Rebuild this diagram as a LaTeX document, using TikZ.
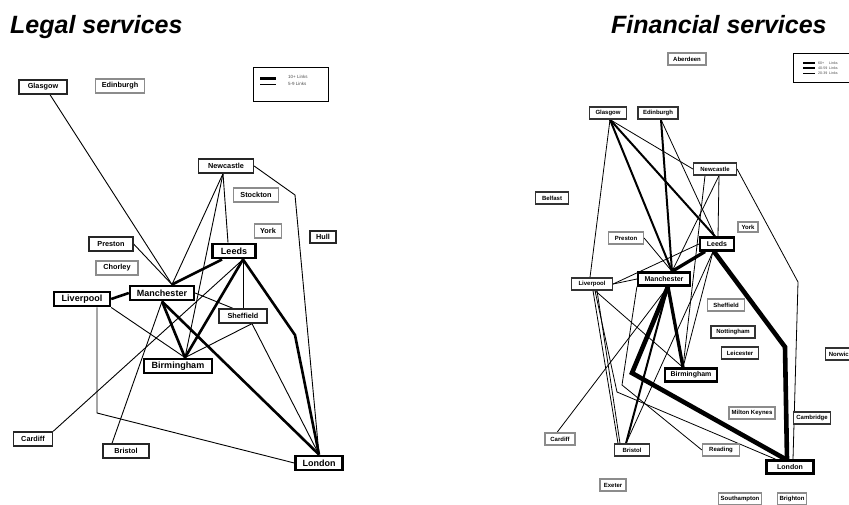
\documentclass[tikz,border=0pt]{standalone}
\usepackage{fontspec}
\setmainfont{Liberation Sans}
\usetikzlibrary{backgrounds}

\begin{document}
\begin{tikzpicture}[x=1pt,y=1pt,yscale=-1,xscale=1,
    paneltitle/.style={font=\bfseries\itshape\fontsize{25}{28}\selectfont, inner sep=0pt},
    bigtown/.style={draw, fill=white, line width=2.4pt, font=\bfseries\fontsize{9}{10}\selectfont, inner sep=0pt, minimum height=14.5pt},
    town/.style={draw=black!85, fill=white, line width=1.3pt, font=\bfseries\fontsize{7.3}{8}\selectfont, inner sep=0pt, minimum height=14pt},
    minortown/.style={town, draw=black!45},
    fbigtown/.style={draw, fill=white, line width=2.2pt, font=\bfseries\fontsize{7}{8}\selectfont, inner sep=0pt, minimum height=13pt},
    ftown/.style={draw=black!80, fill=white, line width=1.2pt, font=\bfseries\fontsize{6}{7}\selectfont, inner sep=0pt, minimum height=12pt},
    fminortown/.style={ftown, draw=black!45},
    lnk/.style={line width=0.9pt},
    lnkfat/.style={line width=2.6pt},
    flnk/.style={line width=0.8pt},
    flnkmid/.style={line width=2pt},
    flnkfat/.style={line width=3.3pt},
    flnkhuge/.style={line width=4.6pt},
    keybox/.style={draw, line width=1.3pt, fill=white, inner sep=0pt},
    keytext/.style={anchor=west, inner sep=0pt, text=black!70, font=\fontsize{4.5}{5}\selectfont}
]
    \useasboundingbox (0,0) rectangle (849,504);
    \clip (0,0) rectangle (849,504);

    % Legal services
    \node [paneltitle, anchor=base west] (ttlegal) at (10,33) {Legal services};
    \node [town, minimum width=48pt] (lglas) at (43,87) {Glasgow};
    \node [minortown, minimum width=49pt] (ledin) at (120,86) {Edinburgh};
    \node [town, minimum width=55pt] (lnewc) at (226,166) {Newcastle};
    \node [minortown, minimum width=45pt] (lstock) at (256,195) {Stockton};
    \node [minortown, minimum width=27pt] (lyork) at (268,231) {York};
    \node [town, minimum width=26pt, minimum height=12pt] (lhull) at (323,237) {Hull};
    \node [town, minimum width=44pt] (lprest) at (111,244) {Preston};
    \node [bigtown, minimum width=43pt] (lleeds) at (234,251) {Leeds};
    \node [minortown, minimum width=42pt] (lchor) at (117,268) {Chorley};
    \node [bigtown, minimum width=64pt] (lman) at (162,293) {Manchester};
    \node [bigtown, minimum width=56pt] (lliv) at (82,299) {Liverpool};
    \node [town, minimum width=48pt] (lsheff) at (243,316) {Sheffield};
    \node [bigtown, minimum width=68pt] (lbirm) at (178,366) {Birmingham};
    \node [town, minimum width=39pt] (lcard) at (33,439) {Cardiff};
    \node [town, minimum width=46pt] (lbris) at (126,451) {Bristol};
    \node [bigtown, minimum width=47pt] (llond) at (319,463) {London};
    \coordinate (lkink1) at (295,195);
    \coordinate (lkink2) at (295,335);
    \coordinate (lkink3) at (97,413);

    % key
    \node [keybox, minimum width=75pt, minimum height=34pt] (lkey) at (291,84.5) {};
    \draw [line width=3pt] (260,78) -- (276,78);
    \draw [line width=1pt] (260,84) -- (276,84);
    \node [keytext] (lkeya) at (288,77) {10+ Links};
    \node [keytext] (lkeyb) at (288,84) {5-9 Links};

    \begin{pgfonlayer}{background}
    \draw [lnk] ([xshift=7pt]lglas.south) -- ([xshift=10pt]lman.north);
    \draw [lnk] (lprest.east) -- ([xshift=10pt]lman.north);
    % Newcastle
    \draw [lnk] ([xshift=-3pt]lnewc.south) -- ([xshift=10pt]lman.north);
    \draw [lnk] ([xshift=-3pt]lnewc.south) -- ([xshift=7pt]lbirm.north);
    \draw [lnk] ([xshift=-3pt]lnewc.south) -- ([xshift=-6pt]lleeds.north);
    \draw [lnk] (lnewc.east) -- (lkink1) -- (llond.north);
    % Leeds
    \draw [lnkfat] ([xshift=-12pt]lleeds.south) -- ([xshift=10pt]lman.north);
    \draw [lnkfat] ([xshift=9pt]lleeds.south) -- ([xshift=7pt]lbirm.north);
    \draw [lnkfat] ([xshift=9pt]lleeds.south) -- (lkink2) -- (llond.north);
    \draw [lnk] ([xshift=9pt]lleeds.south) -- (lsheff.north);
    \draw [lnk] ([xshift=9pt]lleeds.south) -- (lcard.north east);
    % Manchester
    \draw [lnkfat] (lliv.east) -- (lman.west);
    \draw [lnkfat] (lman.south) -- ([xshift=7pt]lbirm.north);
    \draw [lnkfat] (lman.south) -- (llond.north);
    \draw [lnk] (lman.south) -- ([xshift=-14pt]lbris.north);
    \draw [lnk] (lman.east) -- ([xshift=-10pt]lsheff.north);
    % Liverpool
    \draw [lnk] (lliv.south east) -- ([xshift=7pt]lbirm.north);
    \draw [lnk] ([xshift=15pt]lliv.south) -- (lkink3) -- (llond.west);
    % Sheffield
    \draw [lnk] ([xshift=9pt]lsheff.south) -- (llond.north);
    \draw [lnk] ([xshift=9pt]lsheff.south) -- ([xshift=7pt]lbirm.north);
    \end{pgfonlayer}

    % Financial services
    \node [paneltitle, anchor=base west] (ttfin) at (611,33) {Financial services};
    \node [fminortown, minimum width=38pt] (rabd) at (687,59) {Aberdeen};
    \node [ftown, minimum width=37pt] (rglas) at (608,113) {Glasgow};
    \node [ftown, minimum width=40pt] (redin) at (658,113) {Edinburgh};
    \node [ftown, minimum width=43pt] (rnewc) at (715,169) {Newcastle};
    \node [ftown, minimum width=33pt] (rbelf) at (552,198) {Belfast};
    \node [fminortown, minimum width=20pt, minimum height=10pt] (ryork) at (748,227) {York};
    \node [fminortown, minimum width=35pt] (rprest) at (626,238) {Preston};
    \node [fbigtown, minimum width=34pt] (rleeds) at (717,244) {Leeds};
    \node [ftown, minimum width=41pt] (rliv) at (592,284) {Liverpool};
    \node [fbigtown, minimum width=52pt] (rman) at (664,279) {Manchester};
    \node [fminortown, minimum width=37pt] (rsheff) at (726,305) {Sheffield};
    \node [ftown, minimum width=44pt] (rnott) at (733,332) {Nottingham};
    \node [ftown, minimum width=37pt] (rleic) at (740,353) {Leicester};
    \node [ftown, minimum width=30pt, anchor=west] (rnorw) at (825,354) {Norwich};
    \node [fbigtown, minimum width=52pt] (rbirm) at (691,375) {Birmingham};
    \node [fminortown, minimum width=46pt] (rmk) at (752,413) {Milton Keynes};
    \node [ftown, minimum width=37pt] (rcamb) at (812,418) {Cambridge};
    \node [fminortown, minimum width=30pt] (rcard) at (560,439) {Cardiff};
    \node [ftown, minimum width=35pt] (rbris) at (632,450) {Bristol};
    \node [fminortown, minimum width=37pt] (rread) at (721,450) {Reading};
    \node [fbigtown, minimum width=47pt] (rlond) at (790,467) {London};
    \node [fminortown, minimum width=26pt] (rexe) at (613,485) {Exeter};
    \node [fminortown, minimum width=43pt] (rsouth) at (740,499) {Southampton};
    \node [fminortown, minimum width=29pt] (rbright) at (792,499) {Brighton};
    \coordinate (rkink1) at (798,282);
    \coordinate (rkink2) at (785,347);
    \coordinate (rkink3) at (632,373);
    \coordinate (rkink4) at (622,385);
    \coordinate (rkink5) at (617,392);

    % key
    \node [keybox, minimum width=70pt, minimum height=29pt, anchor=north west] (rkey) at (793,53) {};
    \draw [line width=2.6pt] (803,63) -- (815,63);
    \draw [line width=2pt] (803,68) -- (815,68);
    \draw [line width=1pt] (803,73) -- (815,73);
    \node [keytext, font=\fontsize{3.6}{4}\selectfont] (rkeya) at (818,63) {\makebox[11pt][l]{60+}Links};
    \node [keytext, font=\fontsize{3.6}{4}\selectfont] (rkeyb) at (818,68) {\makebox[11pt][l]{40-59}Links};
    \node [keytext, font=\fontsize{3.6}{4}\selectfont] (rkeyc) at (818,73) {\makebox[11pt][l]{20-39}Links};

    \begin{pgfonlayer}{background}
    % Glasgow
    \draw [flnk] ([xshift=2pt]rglas.south) -- ([xshift=-2pt]rliv.north);
    \draw [flnkmid] ([xshift=2pt]rglas.south) -- ([xshift=8pt]rman.north);
    \draw [flnkmid] ([xshift=2pt]rglas.south) -- ([xshift=-2pt]rleeds.north);
    \draw [flnk] ([xshift=2pt]rglas.south) -- (rnewc.west);
    % Edinburgh
    \draw [flnkmid] ([xshift=3pt]redin.south) -- ([xshift=8pt]rman.north);
    \draw [flnk] ([xshift=3pt]redin.south) -- ([xshift=-2pt]rleeds.north);
    % Newcastle
    \draw [flnk] ([xshift=4pt]rnewc.south) -- ([xshift=8pt]rman.north);
    \draw [flnk] ([xshift=4pt]rnewc.south) -- ([xshift=1pt]rleeds.north);
    \draw [flnk] ([xshift=-10pt]rnewc.south) -- ([xshift=-8pt]rbirm.north);
    \draw [flnk] (rnewc.east) -- (rkink1) -- ([xshift=3pt]rlond.north);
    % Leeds
    \draw [flnkfat] ([xshift=-12pt]rleeds.south) -- ([xshift=8pt]rman.north);
    \draw [flnkhuge] ([xshift=-3pt]rleeds.south) -- (rkink2) -- ([xshift=-3pt]rlond.north);
    \draw [flnk] ([xshift=-4pt]rleeds.south) -- ([xshift=-8pt]rbirm.north);
    \draw [flnk] ([xshift=-4pt]rleeds.south) -- ([xshift=-6pt]rbris.north);
    \draw [flnk] (rliv.east) -- (rleeds.west);
    % Manchester
    \draw [flnk] (rprest.east) -- ([xshift=8pt]rman.north);
    \draw [flnk] (rliv.east) -- (rman.west);
    \draw [flnkfat] ([xshift=4pt]rman.south) -- ([xshift=-8pt]rbirm.north);
    \draw [flnkhuge] ([xshift=4pt]rman.south) -- (rkink3) -- ([xshift=-4pt]rlond.north);
    \draw [flnkmid] ([xshift=4pt]rman.south) -- ([xshift=-6pt]rbris.north);
    \draw [flnk] ([xshift=4pt]rman.south) -- ([xshift=-3pt]rcard.north);
    \draw [flnk] (rman.south west) -- (rkink4) -- (rread.west);
    % Liverpool
    \draw [flnk] ([xshift=3pt]rliv.south) -- ([xshift=-8pt]rbirm.north);
    \draw [flnk] ([xshift=3pt]rliv.south) -- (rkink5) -- ([xshift=-14pt]rlond.north);
    \draw [flnk] ([xshift=1pt]rliv.south) -- ([xshift=-14pt]rbris.north);
    \draw [flnk] ([xshift=5pt]rliv.south) -- ([xshift=-12pt]rbris.north);
    \end{pgfonlayer}

\end{tikzpicture}
\end{document}
